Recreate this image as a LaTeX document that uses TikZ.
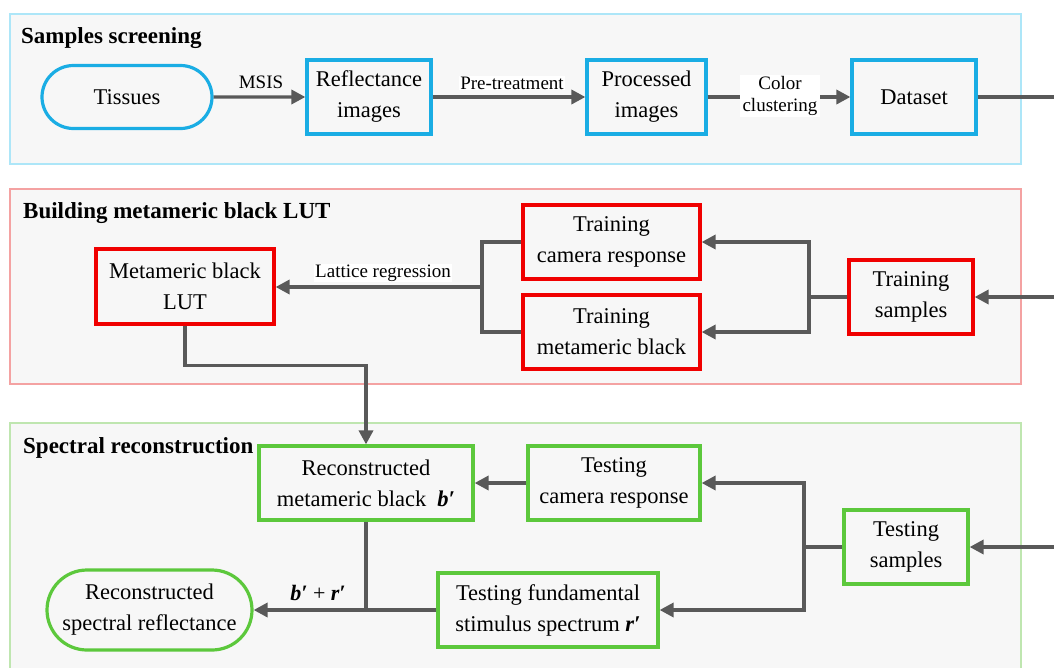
\documentclass[tikz,border=0pt]{standalone}
\usepackage{fontspec}
\setmainfont{Liberation Serif}
\usetikzlibrary{arrows.meta,shapes.misc}
\definecolor{panelbg}{HTML}{F7F7F7}
\definecolor{pblue}{HTML}{ADE6F8}
\definecolor{pred}{HTML}{F4A2A2}
\definecolor{pgreen}{HTML}{BFE6B0}
\definecolor{nblue}{HTML}{1AADE4}
\definecolor{nred}{HTML}{F00000}
\definecolor{ngreen}{HTML}{5CC83C}
\definecolor{arr}{HTML}{595959}
\tikzset{
  panel/.style={fill=panelbg, line width=2.6pt},
  box/.style={rectangle, line width=3.2pt, minimum height=74pt, align=center,
    font=\fontsize{22.5}{31}\selectfont, inner sep=0pt, fill=panelbg},
  stadium/.style={rounded rectangle, line width=3.2pt, align=center,
    font=\fontsize{22.5}{31}\selectfont, inner sep=0pt, fill=panelbg},
  wire/.style={draw=arr, line width=3.4pt},
  conn/.style={wire, -{Triangle[length=14pt,width=14pt]}},
  lbl/.style={font=\fontsize{19}{22}\selectfont, fill=white, inner sep=1pt, align=center},
  ttl/.style={font=\bfseries\fontsize{23}{26}\selectfont, anchor=base west, inner sep=0pt},
}
\begin{document}
\begin{tikzpicture}[x=1pt,y=-1pt]
\useasboundingbox (0,0) rectangle (1054,667);
\fill[white] (0,0) rectangle (1054,667);
\begin{scope}
\clip (0,0) rectangle (1054,667);
% panels
\draw[panel, draw=pblue] (10,14) rectangle (1021,164);
\draw[panel, draw=pred] (10,189) rectangle (1021,384);
\draw[panel, draw=pgreen] (10,423) rectangle (1021,720);
\node[ttl] (t1) at (21,43) {Samples screening};
\node[ttl] (t2) at (23,218) {Building metameric black LUT};
\node[ttl] (t3) at (23,453) {Spectral reconstruction};

% panel 1 nodes
\node[stadium, draw=nblue, minimum width=170pt, minimum height=63pt] (tis) at (127,97) {Tissues};
\node[box, draw=nblue, minimum width=124pt] (refl) at (369,97) {Reflectance\\images};
\node[box, draw=nblue, minimum width=119pt] (proc) at (646.5,97) {Processed\\images};
\node[box, draw=nblue, minimum width=124pt] (ds) at (914,97) {Dataset};
\coordinate (out1) at (1054,97);

% panel 2 nodes
\node[box, draw=nred, minimum width=178pt, minimum height=75pt] (lut) at (185,286.5) {Metameric black\\LUT};
\node[box, draw=nred, minimum width=177pt] (tcr) at (611.5,242) {Training\\camera response};
\node[box, draw=nred, minimum width=177pt] (tmb) at (611.5,332) {Training\\metameric black};
\node[box, draw=nred, minimum width=124pt] (tsa) at (911,297) {Training\\samples};
\coordinate (in2) at (1054,297);
\coordinate (j1) at (482,287);
\coordinate (j2) at (809,297);

% panel 3 nodes
\node[box, draw=ngreen, minimum width=214pt] (rmb) at (366,483) {Reconstructed\\metameric black \ \textbf{\textit{b′}}};
\node[box, draw=ngreen, minimum width=172pt] (tcr2) at (614,483) {Testing\\camera response};
\node[box, draw=ngreen, minimum width=124pt] (tsm) at (906,547) {Testing\\samples};
\node[box, draw=ngreen, minimum width=220pt] (tfs) at (548,610) {Testing fundamental\\stimulus spectrum \textbf{\textit{r′}}};
\node[stadium, draw=ngreen, minimum width=205pt, minimum height=80pt] (rrf) at (149.5,610) {Reconstructed\\spectral reflectance};
\coordinate (in3) at (1054,547);
\coordinate (j3) at (804,547);
\coordinate (j4) at (366,610);

% panel 1 connectors
\draw[conn] (tis) -- (refl);
\node[lbl, fill=none] (l1) at (261,82) {MSIS};
\draw[conn] (refl) -- (proc);
\node[lbl] (l2) at (512,83) {Pre-treatment};
\draw[conn] (proc) -- (ds);
\node[lbl, inner xsep=3pt] (l3) at (780,96) {Color\\clustering};
\draw[wire] (ds) -- (out1);

% panel 2 connectors
\draw[conn] (in2) -- (tsa);
\draw[wire] (tsa.west) -- (j2);
\draw[conn] (j2) |- (tcr.east);
\draw[conn] (j2) |- (tmb.east);
\draw[wire] (tcr.west) -| (j1);
\draw[wire] (tmb.west) -| (j1);
\draw[conn] (j1) -- (lut.east |- j1);
\node[lbl] (l4) at (383,273) {Lattice regression};
\draw[conn] (lut.south) -- ++(0,40) -| (rmb.north);

% panel 3 connectors
\draw[conn] (in3) -- (tsm);
\draw[wire] (tsm.west) -- (j3);
\draw[conn] (j3) |- (tcr2.east);
\draw[conn] (j3) |- (tfs.east);
\draw[conn] (tcr2.west) -- (rmb.east);
\draw[wire] (rmb.south) -- (j4);
\draw[conn] (tfs.west) -- (rrf.east);
\node[lbl, fill=none, font=\fontsize{22}{24}\selectfont] (l5) at (318,593) {\textbf{\textit{b′}} + \textbf{\textit{r′}}};
\end{scope}
\end{tikzpicture}
\end{document}
